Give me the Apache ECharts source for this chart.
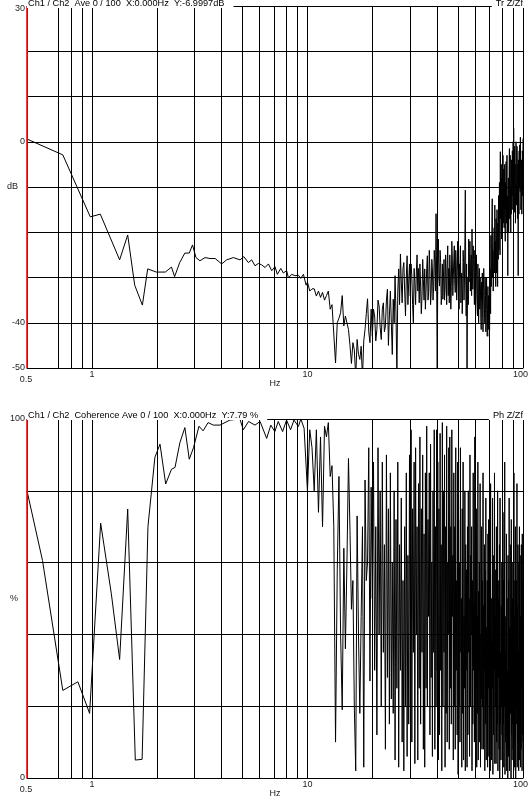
<!DOCTYPE html>
<html>
<head>
<meta charset="utf-8">
<script src="https://cdn.jsdelivr.net/npm/echarts@6/dist/echarts.min.js"></script>
<style>
html, body { margin: 0; padding: 0; background: #fff; }
#chart { width: 530px; height: 800px; }
</style>
</head>
<body>
<div id="chart"></div>
<script>
// vertical grid lines and labelled frequencies (Hz)
const gridHz = [0.6, 0.7, 0.8, 0.9, 1, 2, 3, 4, 5, 6, 7, 8, 9, 10, 20, 30, 40, 50, 60, 70, 80, 90, 100]
const labelHz = [0.5, 1, 10, 100]
const dbTicks = [30, 0, -40, -50]
const cohTicks = [100, 0]

// transfer function, low end read point by point
const lowHzTop = [0.5, 0.733, 0.983, 1.094, 1.345, 1.466, 1.58, 1.715, 1.815, 1.99, 2.19, 2.34, 2.42, 2.555,
  2.7, 2.83, 2.93, 3.04, 3.17, 3.35, 3.53, 3.73, 4.0, 4.22, 4.53, 4.87, 5.07, 5.32, 5.51, 5.71, 5.92,
  6.13, 6.36, 6.59, 6.83, 7.07, 7.25, 7.52, 7.73, 8.01, 8.16, 8.45, 8.76, 9.08, 9.31, 9.58, 9.86]
const lowDbTop = [0.6, -2.9, -16.6, -16.0, -26.1, -20.6, -31.7, -36.1, -28.1, -28.8, -28.8, -27.7, -29.8, -26.7,
  -24.6, -24.6, -22.8, -25.6, -26.3, -25.6, -25.8, -25.8, -27.0, -26.1, -25.6, -26.1, -25.4, -26.7, -26.1, -27.4, -26.9,
  -27.2, -27.8, -27.0, -28.5, -27.6, -29.3, -28.0, -29.0, -28.5, -30.1, -29.3, -29.6, -29.5, -30.2, -29.3, -31.7]

// coherence, low end read point by point
const lowHzCoh = [0.5, 0.59, 0.733, 0.861, 0.976, 1.098, 1.231, 1.345, 1.466, 1.59, 1.71, 1.82, 1.96, 2.07, 2.2,
  2.34, 2.43, 2.56, 2.7, 2.83, 2.96, 3.14, 3.28, 3.46, 3.66, 3.93, 4.37, 4.86, 5.04, 5.33, 5.71, 6.03, 6.47,
  6.76, 7.06, 7.32, 7.67, 8.0, 8.35, 8.66, 9.08, 9.32, 9.65]
const lowCoh = [80, 60.6, 24.4, 26.8, 18.0, 71.0, 51.3, 33.0, 74.9, 5.0, 5.2, 70, 89.3, 93, 81.9,
  86, 86.5, 93.4, 97.6, 88.8, 92, 98, 96.7, 99, 98.3, 98.3, 99.7, 100, 97, 99.3, 98.3, 99.3, 94.6,
  98.3, 96.5, 99.3, 96.5, 99.7, 97, 99.7, 97.9, 100, 97.4]

// FFT bins every 0.25 Hz: 10 .. 19.75 Hz (mid), 20 .. 100 Hz (high, 5 Hz per row)
const midDbTop = [-31, -33, -32.5, -32.5, -34.1, -33, -34.4, -33.3, -35, -34,
  -33, -37, -36, -36.3, -48.9, -40, -39, -37.8, -34, -40.7,
  -38.5, -38.5, -41.5, -45, -49, -44.4, -46, -52, -43.7, -47,
  -48.1, -45.2, -52, -44, -41.5, -38, -34.7, -42, -44.4, -37]
const highDbTop = [-43,
  -37, -38.5, -44, -41.5, -35, -36.3, -41, -43.7, -37, -35.6, -42, -40.7, -35, -32.6, -45, -38.5, -33, -40, -47, -34.8,
  -40, -29.6, -38, -51, -33, -28.1, -36, -24.8, -31, -35.6, -28, -26.7, -33, -38.5, -30, -25.2, -36, -31, -27, -34.1,
  -27, -29.6, -36, -40, -28, -31.1, -36, -29, -25, -33, -28, -35.6, -27, -31.9, -38, -34.1, -26, -30.5, -35, -28.1,
  -37, -33, -28, -25.2, -35, -33.3, -24, -29, -36, -33.5, -26, -28.1, -35, -31.9, -24, -26.7, -33, -15.9, -30, -51,
  -28, -21.5, -30, -31.9, -24, -26.7, -36, -34, -27, -34.8, -30, -26, -35, -32.6, -25, -29.5, -36, -27.4, -23, -34,
  -28, -35.6, -25, -29, -37, -32, -22, -25.9, -34, -30, -26, -23, -31, -33.3, -24, -27, -35, -31, -22, -28.1,
  -24, -37, -27, -30, -23, -35.6, -31, -29, -38, -33, -24, -26.7, -35, -31, -22, -10.7, -30, -38.5, -27, -51,
  -35, -30, -36, -21.5, -31, -28, -22, -33, -27, -25, -34, -19.3, -29, -32.6, -23, -26, -31, -36, -24, -28.1,
  -38, -34, -25, -29.5, -35, -38.5, -27, -31, -40, -31.1, -28, -37, -30, -33, -39, -41.5, -31, -35, -29, -39,
  -42, -33, -28, -31.9, -37, -40, -30, -34, -42, -38, -30, -35.6, -43, -37, -32, -41.5, -34, -35, -43, -41.5,
  -28, -33, -38, -20.7, -32, -28, -18, -12.6, -30, -24, -33, -30.4, -22, -19, -29, -14, -26, -22, -32, -17,
  -29, -25, -15, -25.2, -32, -18, -26, -11.9, -24, -21, -9, -16, -25, -2.2, -17, -12, -5, -21.5, -8, -13,
  -20, -8.9, -3, -18, -10, -6, -19, -14, -5, -17.8, -22, -9, -15, -4.4, -18, -12, -3, -20, -12, -29.6,
  -14, -8, -20, -16, -6, -1.5, -17, -10, -3, -14, -20, -10.4, -16, -4, -9, -11.9, -2, -7, -15, 0,
  -10, 3, -4, -8, -1, -15.6, -7, -5, -18, -13, 0, -3, -14, -9, -1, -3, -17, -12, -5, -29.6,
  -4, -9, -16, -2, -10, -0.7, -8, -11, 1, -6, -15, -13, -4, -6, -16, -11.9, -2, -3, -12, 0.7]
const midCoh = [80, 97, 92, 80, 97, 74, 95, 70, 98, 95,
  99, 84, 87, 70, 10, 58, 84, 40, 19, 64,
  36, 60, 89, 69, 47, 55, 20, 2, 73, 40,
  18, 45, 70, 3, 83, 55, 60, 92, 27, 81]
const highCoh = [50,
  88, 30, 70, 12, 92, 40, 80, 20, 88, 35, 65, 8, 90, 28, 75, 15, 85, 22, 60, 18,
  80, 5, 72, 25, 88, 3, 65, 30, 78, 10, 55, 2, 70, 20, 85, 6, 62, 15, 90, 20,
  97, 10, 75, 35, 88, 4, 92, 40, 70, 5, 82, 25, 95, 15, 75, 35, 90, 8, 68, 3,
  85, 25, 98, 20, 72, 45, 85, 12, 93, 28, 60, 6, 80, 35, 97, 8, 70, 20, 97, 30,
  88, 5, 75, 12, 96, 30, 65, 2, 99, 20, 80, 35, 90, 3, 70, 18, 98, 10, 60, 40,
  92, 8, 95, 25, 70, 15, 97, 45, 62, 5, 85, 20, 70, 8, 92, 30, 55, 12, 88, 1,
  72, 20, 60, 10, 92, 35, 50, 3, 75, 18, 88, 5, 45, 25, 80, 2, 65, 30, 58, 3,
  70, 12, 80, 35, 50, 6, 90, 20, 62, 40, 70, 2, 55, 15, 85, 30, 48, 10, 95, 10,
  60, 25, 75, 3, 45, 18, 88, 5, 52, 30, 60, 10, 82, 3, 40, 22, 70, 8, 55, 20,
  85, 8, 48, 30, 65, 2, 58, 15, 78, 5, 42, 20, 55, 3, 68, 25, 72, 6, 45, 10,
  60, 2, 82, 18, 50, 5, 38, 25, 78, 1, 62, 12, 50, 30, 85, 4, 45, 20, 58, 4,
  70, 10, 42, 15, 80, 2, 50, 28, 55, 8, 65, 0, 78, 15, 35, 5, 48, 20, 60, 12,
  40, 3, 74, 15, 55, 3, 60, 20, 88, 1, 35, 10, 45, 15, 68, 2, 50, 8, 30, 0,
  62, 6, 55, 10, 78, 2, 42, 22, 40, 18, 65, 0, 72, 12, 35, 5, 50, 15, 60, 8,
  40, 2, 85, 10, 45, 3, 55, 12, 70, 0, 38, 15, 55, 20, 82, 3, 48, 10, 65, 5,
  35, 2, 60, 18, 70, 5, 40, 15, 45, 3, 62, 8, 65, 25, 50, 2, 68, 12, 55, 10]

function bins(start, step, n) {
  const out = []
  for (let i = 0; i < n; i++) out.push(+(start + i * step).toFixed(2))
  return out
}
const midHz = bins(10, 0.25, midDbTop.length)
const highHz = bins(20, 0.25, highDbTop.length)

function pairs(hz, vals) {
  return hz.map((f, i) => [f, vals[i]])
}
const topData = pairs(lowHzTop, lowDbTop).concat(pairs(midHz, midDbTop), pairs(highHz, highDbTop))
const cohData = pairs(lowHzCoh, lowCoh).concat(pairs(midHz, midCoh), pairs(highHz, highCoh))

const font = 'Liberation Sans, Arial, sans-serif'
const txt = { fontSize: 9, color: '#222', fontFamily: font }
const red = '#e00000'

function freqAxis(gridIndex) {
  return {
    type: 'log', logBase: 10, gridIndex, min: 0.5, max: 100, z: 1,
    name: 'Hz', nameLocation: 'middle', nameGap: 11, nameMoveOverlap: false,
    nameTextStyle: txt,
    axisLine: { onZero: false, lineStyle: { color: '#000', width: 1 } },
    axisTick: { show: false, customValues: gridHz },
    splitLine: { show: true, showMinLine: false, showMaxLine: true, lineStyle: { color: '#000', width: 1 } },
    axisLabel: {
      customValues: labelHz, margin: 2, hideOverlap: false, ...txt,
      formatter: v => v < 0.9 ? '{lo|0.5}' : v > 50 ? '{hi|100}' : String(Math.round(v)),
      rich: {
        lo: { ...txt, padding: [5, 2, 0, 0] },
        hi: { ...txt, padding: [0, 5, 0, 0] }
      }
    }
  }
}

function valAxis(gridIndex, min, max, interval, name, ticks) {
  return {
    type: 'value', gridIndex, min, max, interval, z: 4,
    name, nameLocation: 'middle', nameGap: 9, nameRotate: 0, nameMoveOverlap: false,
    nameTextStyle: txt,
    axisLine: { show: true, onZero: false, lineStyle: { color: red, width: 1 } },
    axisTick: { show: false },
    splitLine: { show: true, lineStyle: { color: '#000', width: 1 } },
    axisLabel: {
      customValues: ticks, margin: 2, hideOverlap: false, ...txt,
      formatter: v => v === 30 ? '{top|30}' : String(v),
      rich: { top: { ...txt, padding: [5, 0, 0, 0] } }
    }
  }
}

function heading(text, pos, top) {
  return {
    text, top, ...pos,
    padding: pos.left != null ? [0, 9, 0, 1] : [0, 1, 0, 4],
    backgroundColor: '#fff',
    textStyle: { fontSize: 9.2, fontWeight: 'normal', color: '#000', fontFamily: font, lineHeight: 9 }
  }
}

// red left edge of each plot, at the lowest frequency
const leftEdge = {
  silent: true, symbol: ['none', 'none'], label: { show: false },
  lineStyle: { color: red, width: 1.5, type: 'solid' },
  emphasis: { disabled: true },
  data: [{ xAxis: labelHz[0] }]
}

const line = (xi) => ({
  type: 'line', xAxisIndex: xi, yAxisIndex: xi,
  symbol: 'none', showSymbol: false, silent: true, clip: true,
  lineStyle: { color: '#000', width: 1 },
  markLine: leftEdge
})

const chart = echarts.init(document.getElementById('chart'))
chart.setOption({
  animation: false,
  backgroundColor: '#fff',
  title: [
    heading('Ch1 / Ch2  Ave 0 / 100  X:0.000Hz  Y:-6.9997dB', { left: 27 }, -1),
    heading('Tr Z/Zf', { right: 6 }, -1),
    heading('Ch1 / Ch2  Coherence Ave 0 / 100  X:0.000Hz  Y:7.79 %', { left: 27 }, 411),
    heading('Ph Z/Zf', { right: 6 }, 411)
  ],
  grid: [
    { left: 27, right: 7, top: 6, height: 362, containLabel: false, outerBoundsMode: 'none' },
    { left: 27, right: 7, top: 419, height: 359, containLabel: false, outerBoundsMode: 'none' }
  ],
  xAxis: [freqAxis(0), freqAxis(1)],
  yAxis: [
    valAxis(0, -50, 30, 10, 'dB', dbTicks),
    valAxis(1, 0, 100, 20, '%', cohTicks)
  ],
  series: [
    { ...line(0), data: topData },
    { ...line(1), data: cohData }
  ]
})
</script>
</body>
</html>
